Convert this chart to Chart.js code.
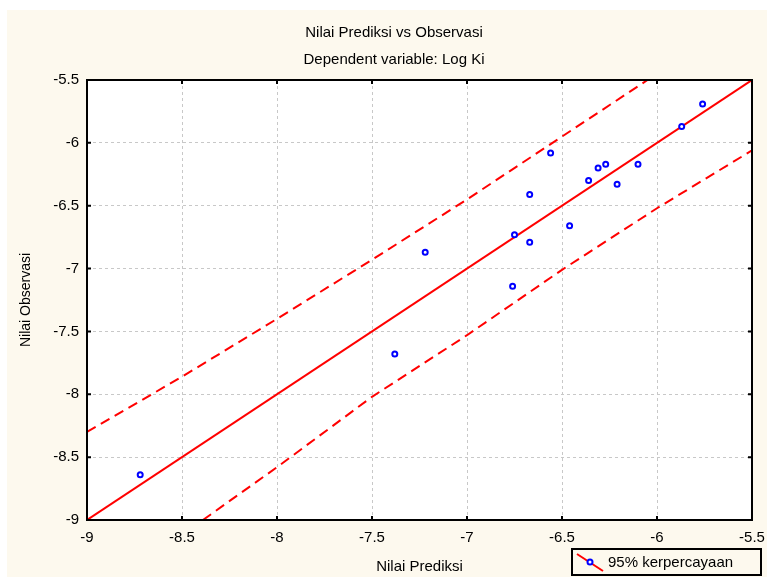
<!DOCTYPE html>
<html>
<head>
<meta charset="utf-8">
<script src="https://cdn.jsdelivr.net/npm/chart.js@4/dist/chart.umd.min.js"></script>
<style>
  body { margin: 0; background: #fff; }
  canvas { display: block; }
</style>
</head>
<body>
<canvas id="plot" width="767" height="577"></canvas>
<script>
// observed vs predicted values (Log Ki)
var predicted = [-8.72, -7.38, -7.22, -6.76, -6.75, -6.67, -6.67, -6.56, -6.46, -6.36, -6.31, -6.27, -6.21, -6.10, -5.87, -5.76];
var observed  = [-8.64, -7.68, -6.87, -7.14, -6.73, -6.79, -6.41, -6.08, -6.66, -6.30, -6.20, -6.17, -6.33, -6.17, -5.87, -5.69];

// fitted line
var fitX = [-9, -5.5];
var fitY = [-9, -5.5];

// 95% bands
var upperX = [-9, -8.5, -8, -7.5, -7, -6.5, -6.05];
var upperY = [-8.30, -7.86, -7.40, -6.93, -6.45, -5.95, -5.5];
var lowerX = [-8.39, -8, -7.5, -7, -6.5, -6, -5.5];
var lowerY = [-9, -8.58, -8.02, -7.53, -7.01, -6.52, -6.06];

var axisTicks = [-9, -8.5, -8, -7.5, -7, -6.5, -6, -5.5];

var titleText = 'Nilai Prediksi vs Observasi';
var subtitleText = 'Dependent variable: Log Ki';
var legendText = '95% kerpercayaan';

var FONT = '"Liberation Sans", Arial, sans-serif';
var CREAM = '#FDF9EE';

function pairs(xs, ys) {
  return xs.map(function (x, i) { return { x: x, y: ys[i] }; });
}

// backgrounds, titles, frame, inner ticks and legend box
var decor = {
  id: 'decor',
  beforeDraw: function (chart) {
    var ctx = chart.ctx, a = chart.chartArea;
    ctx.save();
    ctx.fillStyle = '#fff';
    ctx.fillRect(0, 0, chart.width, chart.height);
    ctx.fillStyle = CREAM;
    ctx.fillRect(7, 10, chart.width - 7, chart.height - 10);
    ctx.fillStyle = '#fff';
    ctx.fillRect(a.left, a.top, a.right - a.left, a.bottom - a.top);

    ctx.fillStyle = '#000';
    ctx.font = '15px ' + FONT;
    ctx.textAlign = 'center';
    ctx.textBaseline = 'middle';
    ctx.fillText(titleText, 394, 33);
    ctx.fillText(subtitleText, 394, 60);
    ctx.restore();
  },
  afterDraw: function (chart) {
    var ctx = chart.ctx, a = chart.chartArea;
    var xs = chart.scales.x, ys = chart.scales.y;
    ctx.save();
    ctx.strokeStyle = '#000';
    ctx.lineWidth = 2;
    ctx.strokeRect(a.left, a.top, a.right - a.left, a.bottom - a.top);

    // little ticks pointing into the plot
    ctx.beginPath();
    axisTicks.forEach(function (v) {
      var px = xs.getPixelForValue(v);
      ctx.moveTo(px, a.bottom); ctx.lineTo(px, a.bottom - 4);
      ctx.moveTo(px, a.top); ctx.lineTo(px, a.top + 4);
      var py = ys.getPixelForValue(v);
      ctx.moveTo(a.left, py); ctx.lineTo(a.left + 4, py);
      ctx.moveTo(a.right, py); ctx.lineTo(a.right - 4, py);
    });
    ctx.stroke();

    // legend
    ctx.fillStyle = CREAM;
    ctx.fillRect(572, 549, 189, 26);
    ctx.strokeRect(572, 549, 189, 26);
    ctx.strokeStyle = '#f00';
    ctx.beginPath();
    ctx.moveTo(577, 554); ctx.lineTo(603, 571);
    ctx.stroke();
    ctx.strokeStyle = '#00f';
    ctx.fillStyle = '#fff';
    ctx.beginPath();
    ctx.arc(590, 562, 2.5, 0, Math.PI * 2);
    ctx.fill(); ctx.stroke();
    ctx.fillStyle = '#000';
    ctx.font = '15px ' + FONT;
    ctx.textAlign = 'left';
    ctx.textBaseline = 'middle';
    ctx.fillText(legendText, 608, 563);
    ctx.restore();
  }
};

var dashedBand = {
  borderColor: '#ff0000',
  borderWidth: 2,
  borderDash: [10, 6],
  pointRadius: 0,
  showLine: true,
  fill: false
};

function fixedTicks(s) {
  s.ticks = axisTicks.map(function (v) { return { value: v }; });
}

new Chart(document.getElementById('plot'), {
  type: 'scatter',
  data: {
    datasets: [
      {
        label: 'observasi',
        data: pairs(predicted, observed),
        pointRadius: 2.5,
        pointBorderWidth: 2,
        pointBorderColor: '#0000ff',
        pointBackgroundColor: '#ffffff',
        showLine: false
      },
      {
        label: 'fit',
        data: pairs(fitX, fitY),
        borderColor: '#ff0000',
        borderWidth: 2,
        pointRadius: 0,
        showLine: true
      },
      Object.assign({ label: 'atas', data: pairs(upperX, upperY) }, dashedBand),
      Object.assign({ label: 'bawah', data: pairs(lowerX, lowerY) }, dashedBand)
    ]
  },
  options: {
    responsive: false,
    animation: false,
    devicePixelRatio: 1,
    layout: { padding: { top: 80, right: 15, left: 0, bottom: 0 } },
    plugins: {
      legend: { display: false },
      tooltip: { enabled: false }
    },
    scales: {
      x: {
        type: 'linear',
        min: -9, max: -5.5,
        afterBuildTicks: fixedTicks,
        afterFit: function (s) { s.height = 57; s.paddingLeft = 0; s.paddingRight = 0; },
        grid: { color: '#c8c8c8', lineWidth: 1, drawTicks: false },
        border: { display: false, dash: [3, 3] },
        ticks: {
          color: '#000', padding: 9, maxRotation: 0,
          font: { family: FONT, size: 15 },
          callback: function (v) { return String(v); }
        },
        title: {
          display: true, text: 'Nilai Prediksi', color: '#000',
          font: { family: FONT, size: 15 },
          padding: { top: 0, bottom: 1 }
        }
      },
      y: {
        type: 'linear',
        min: -9, max: -5.5,
        afterBuildTicks: fixedTicks,
        afterFit: function (s) { s.width = 87; s.paddingTop = 0; s.paddingBottom = 0; },
        grid: { color: '#c8c8c8', lineWidth: 1, drawTicks: false },
        border: { display: false, dash: [3, 3] },
        ticks: {
          color: '#000', padding: 8,
          font: { family: FONT, size: 15 },
          callback: function (v) { return String(v); }
        },
        title: {
          display: true, text: 'Nilai Observasi', color: '#000',
          font: { family: FONT, size: 14 },
          padding: { top: 18, bottom: 0 }
        }
      }
    }
  },
  plugins: [decor]
});
</script>
</body>
</html>
